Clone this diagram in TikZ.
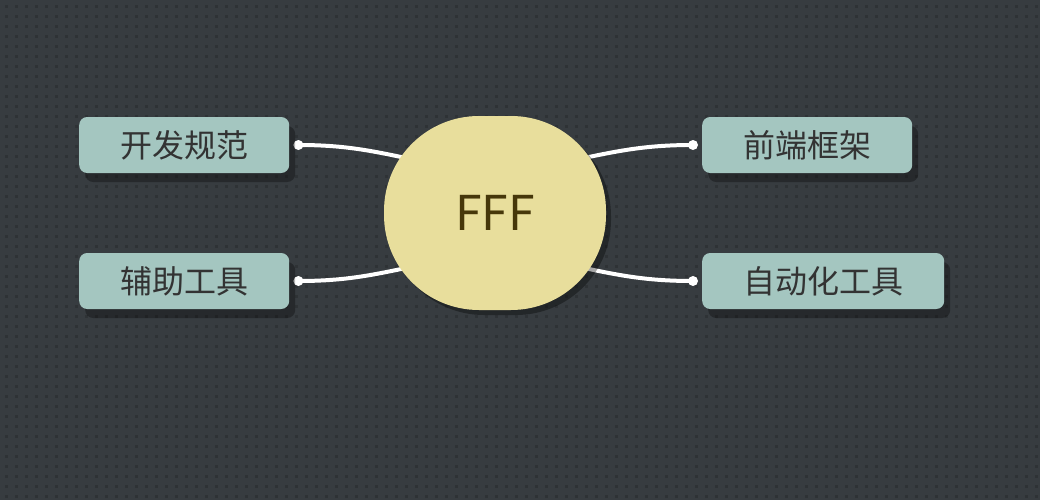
\documentclass[tikz,border=0pt]{standalone}
\usepackage{fontspec}
\setmainfont{Noto Sans CJK SC}
\usetikzlibrary{shadows,backgrounds}
\definecolor{bgc}{HTML}{373C40}
\definecolor{dotc}{HTML}{2E3235}
\definecolor{topicc}{HTML}{A4C6C0}
\definecolor{rootc}{HTML}{E8DE9C}
\definecolor{roottxt}{HTML}{46370A}
\definecolor{topictxt}{HTML}{333333}
\pgfdeclarelayer{paper}
\pgfsetlayers{paper,background,main}
\tikzset{
  topic/.style={rectangle, rounded corners=8pt, fill=topicc, text=topictxt,
    font=\fontsize{32}{32}\selectfont, minimum height=56pt, inner xsep=41pt,
    drop shadow={shadow xshift=6pt, shadow yshift=-9pt, fill=black, opacity=.3}},
  root/.style={rectangle, rounded corners=95pt, fill=rootc, text=roottxt,
    font=\fontsize{48}{48}\selectfont, minimum width=222pt, minimum height=194pt,
    drop shadow={shadow xshift=5pt, shadow yshift=-5pt, fill=black, opacity=.35}},
  link/.style={white, line width=4pt},
  knob/.style={fill=white}
}
\begin{document}
\begin{tikzpicture}[x=1pt, y=-1pt]
\useasboundingbox (0,0) rectangle (1040,500);
\begin{pgfonlayer}{paper}
\fill[bgc] (0,0) rectangle (1040,500);
\foreach \i in {0,...,103}
  \foreach \j in {0,...,49}
    \fill[dotc] (\i*10+5,\j*10+5) rectangle +(3,3);
\end{pgfonlayer}

\node[root] (fff) at (495,213) {FFF};
\node[topic, anchor=west] (kfgf) at (79,145) {开发规范};
\node[topic, anchor=west] (fzgj) at (79,281) {辅助工具};
\node[topic, anchor=west] (qdkj) at (702,145) {前端框架};
\node[topic, anchor=west] (zdh) at (702,281) {自动化工具};

\coordinate (kfgf-k) at ([xshift=9pt]kfgf.east);
\coordinate (fzgj-k) at ([xshift=9pt]fzgj.east);
\coordinate (qdkj-k) at ([xshift=-9pt]qdkj.west);
\coordinate (zdh-k) at ([xshift=-9pt]zdh.west);
\coordinate (fff-nw) at ([shift={(-75,-52)}]fff.center);
\coordinate (fff-sw) at ([shift={(-75,52)}]fff.center);
\coordinate (fff-ne) at ([shift={(75,-52)}]fff.center);
\coordinate (fff-se) at ([shift={(75,52)}]fff.center);

\begin{scope}[on background layer]
\draw[link] (kfgf-k) to[out=0, in=168] (fff-nw);
\draw[link] (fzgj-k) to[out=0, in=192] (fff-sw);
\draw[link] (qdkj-k) to[out=180, in=12] (fff-ne);
\draw[link] (zdh-k) to[out=180, in=-12] (fff-se);
\foreach \k in {kfgf-k, fzgj-k, qdkj-k, zdh-k}
  \fill[knob] (\k) circle (5);
\end{scope}
\end{tikzpicture}
\end{document}
